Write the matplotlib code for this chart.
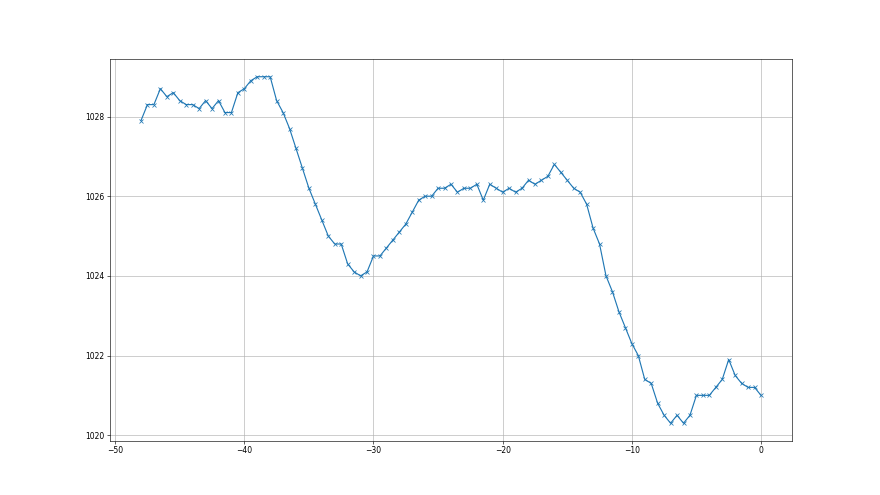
import matplotlib
matplotlib.use("Agg")
import matplotlib.pyplot as plt
import numpy as np

# time offsets (half steps from -48 to 0)
hours = np.arange(-48, 0.5, 0.5)

pressure = [
    1027.9, 1028.3, 1028.3, 1028.7, 1028.5, 1028.6, 1028.4, 1028.3, 1028.3, 1028.2,
    1028.4, 1028.2, 1028.4, 1028.1, 1028.1, 1028.6, 1028.7, 1028.9, 1029.0, 1029.0,
    1029.0, 1028.4, 1028.1, 1027.7, 1027.2, 1026.7, 1026.2, 1025.8, 1025.4, 1025.0,
    1024.8, 1024.8, 1024.3, 1024.1, 1024.0, 1024.1, 1024.5, 1024.5, 1024.7, 1024.9,
    1025.1, 1025.3, 1025.6, 1025.9, 1026.0, 1026.0, 1026.2, 1026.2, 1026.3, 1026.1,
    1026.2, 1026.2, 1026.3, 1025.9, 1026.3, 1026.2, 1026.1, 1026.2, 1026.1, 1026.2,
    1026.4, 1026.3, 1026.4, 1026.5, 1026.8, 1026.6, 1026.4, 1026.2, 1026.1, 1025.8,
    1025.2, 1024.8, 1024.0, 1023.6, 1023.1, 1022.7, 1022.3, 1022.0, 1021.4, 1021.3,
    1020.8, 1020.5, 1020.3, 1020.5, 1020.3, 1020.5, 1021.0, 1021.0, 1021.0, 1021.2,
    1021.4, 1021.9, 1021.5, 1021.3, 1021.2, 1021.2, 1021.0,
]

plt.figure(figsize=(16, 9), dpi=55)
plt.plot(hours, pressure, marker='x')
plt.grid(True)
plt.savefig("out.png", dpi=55)
